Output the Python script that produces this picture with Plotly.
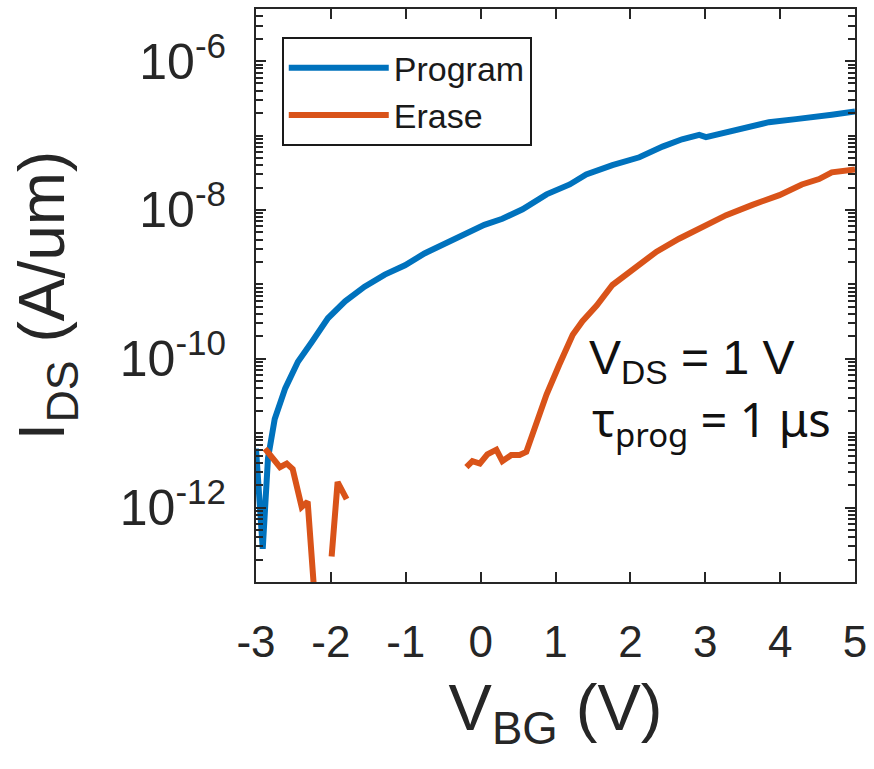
import plotly.graph_objects as go

# ---- Data ----
vbg_program = [-3.00, -2.91, -2.84, -2.75, -2.61, -2.44, -2.25, -2.04, -1.81, -1.55,
               -1.28, -1.01, -0.75, -0.48, -0.25, 0.05, 0.29, 0.56, 0.88, 1.19,
               1.41, 1.76, 2.12, 2.43, 2.69, 2.92, 3.01, 3.41, 3.72, 3.85,
               4.21, 4.56, 4.69, 5.00]
ids_program = [6.2e-12, 2.8e-13, 4.6e-12, 1.55e-11, 4.0e-11, 9.1e-11, 1.7e-10, 3.5e-10, 5.9e-10, 9.3e-10,
               1.35e-9, 1.8e-9, 2.6e-9, 3.5e-9, 4.6e-9, 6.3e-9, 7.6e-9, 1.02e-8, 1.62e-8, 2.2e-8,
               3.0e-8, 4.0e-8, 5.1e-8, 7.1e-8, 8.9e-8, 1.02e-7, 9.5e-8, 1.17e-7, 1.38e-7, 1.51e-7,
               1.66e-7, 1.78e-7, 1.9e-7, 2.1e-7]

vbg_erase = [-2.88, -2.68, -2.59, -2.51, -2.39, -2.31, -2.21, None,
             -1.99, -1.91, -1.79, None,
             -0.19, -0.11, -0.01, 0.09, 0.21, 0.29, 0.41, 0.52, 0.61, 0.75,
             0.88, 1.05, 1.23, 1.36, 1.55, 1.76, 2.03, 2.35, 2.65, 2.96,
             3.28, 3.63, 3.99, 4.29, 4.52, 4.69, 5.00]
ids_erase = [6.2e-12, 3.5e-12, 3.9e-12, 3.3e-12, 1.02e-12, 1.2e-12, 5e-14, None,
             2.2e-13, 2.2e-12, 1.3e-12, None,
             3.5e-12, 4.2e-12, 3.9e-12, 5.2e-12, 6.0e-12, 4.2e-12, 5.1e-12, 5.1e-12, 5.6e-12, 1.4e-11,
             3.3e-11, 8.3e-11, 2.1e-10, 3.2e-10, 5.2e-10, 9.8e-10, 1.6e-9, 2.75e-9, 4.1e-9, 5.9e-9,
             8.5e-9, 1.17e-8, 1.58e-8, 2.2e-8, 2.6e-8, 3.2e-8, 3.5e-8]

x_ticks = [-3, -2, -1, 0, 1, 2, 3, 4, 5]
y_ticks = [1e-12, 1e-10, 1e-8, 1e-6]
y_ticktext = ["10<sup>-12</sup>", "10<sup>-10</sup>", "10<sup>-8</sup>", "10<sup>-6</sup>"]

# minor tick positions (axis decoration, 1..9 x 10^k)
y_minor = []
for k in range(-13, -5):
    for m in range(1, 10):
        v = m * 10.0 ** k
        if v not in y_ticks and v < 10 ** -5.3:
            y_minor.append(v)

BLUE = "#0072BD"
ORANGE = "#D95319"
AXC = "#262626"
FONT = "Liberation Sans, Arial, sans-serif"

fig = go.Figure()
fig.add_trace(go.Scatter(x=vbg_program, y=ids_program, mode="lines", name="Program",
                         line=dict(color=BLUE, width=6)))
fig.add_trace(go.Scatter(x=vbg_erase, y=ids_erase, mode="lines", name="Erase",
                         line=dict(color=ORANGE, width=6), connectgaps=False))

fig.update_layout(
    width=874, height=769,
    margin=dict(l=256, r=18, t=7, b=187),
    paper_bgcolor="white", plot_bgcolor="white",
    font=dict(family=FONT, color="#262626"),
    showlegend=True,
    legend=dict(x=0.043, y=0.951, xanchor="left", yanchor="top",
                bgcolor="white", bordercolor="#1a1a1a", borderwidth=2,
                font=dict(size=34, family=FONT, color="#1a1a1a"),
                itemwidth=100, tracegroupgap=0,
                entrywidth=150, entrywidthmode="pixels"),
)

fig.update_xaxes(
    range=[-3, 5], tickvals=x_ticks, ticktext=[str(t) for t in x_ticks],
    ticks="inside", ticklen=10, tickwidth=2, tickcolor=AXC,
    showline=True, linecolor=AXC, linewidth=2, mirror="allticks",
    showgrid=False, zeroline=False,
    tickfont=dict(size=44, family=FONT, color="#262626"),
    ticklabelstandoff=20,
    title=dict(text="V<sub>BG</sub> (V)", font=dict(size=65, family=FONT, color="#262626"), standoff=20),
)

fig.update_yaxes(
    type="log", range=[-13, -5.3], tickvals=y_ticks, ticktext=y_ticktext,
    ticks="inside", ticklen=10, tickwidth=2, tickcolor=AXC,
    showline=True, linecolor=AXC, linewidth=2, mirror="allticks",
    showgrid=False, zeroline=False,
    minor=dict(tickvals=y_minor, ticks="inside", ticklen=7, tickwidth=2, tickcolor=AXC, showgrid=False),
    tickfont=dict(size=50, family=FONT, color="#262626"),
    ticklabelstandoff=18,
    title=dict(text="I<sub>DS</sub> (A/um)", font=dict(size=64, family=FONT, color="#262626"), standoff=34),
)

fig.add_annotation(x=0.553, y=0.386, xref="paper", yref="paper", xanchor="left", yanchor="middle",
                   text="V<sub>DS</sub> = 1 V", showarrow=False,
                   font=dict(size=48, family=FONT, color="#111111"))
fig.add_annotation(x=0.557, y=0.28, xref="paper", yref="paper", xanchor="left", yanchor="middle",
                   text="τ<sub>prog</sub> = 1 μs", showarrow=False,
                   font=dict(size=47, family="Noto Sans, Liberation Sans, sans-serif", color="#111111"))

fig.write_html("out.html")
